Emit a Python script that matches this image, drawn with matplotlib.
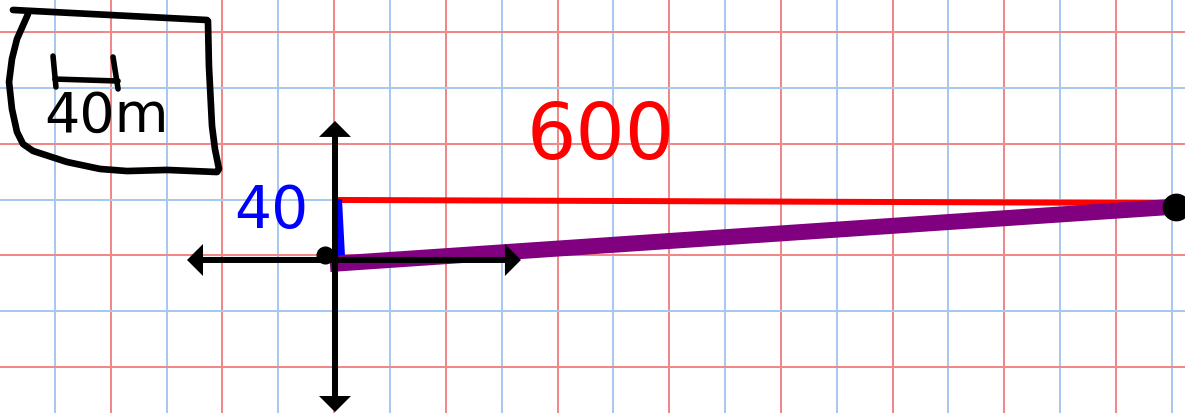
import numpy as np
import matplotlib
matplotlib.use("Agg")
import matplotlib.pyplot as plt

# ---- scale: pixels per metre on the sheet (1 grid square = 40 m) ----
PX_PER_M = 1.396
W_PX, H_PX = 1185, 414
ORIGIN_PX = (335, 260)

# ---- data (metres) ----
run_m = 600          # horizontal distance label
rise_m = 40          # vertical rise label
scale_m = 40         # legend scale
grid_step = 40
grid_x_offset = -0.6
grid_y_offset = 2.6

red_line_x = [2.1, 594.6]
red_line_y = [42.3, 40.1]
purple_x = [-3.6, 609.3]
purple_y = [-3.6, 38.0]
blue_wedge_x = [2.1, 5.0, 7.2, 2.1]
blue_wedge_y = [43.0, 43.0, 1.4, 1.4]
dots_x = [-7.2, 602.4]
dots_y = [2.9, 37.2]
dots_size = [12, 19]

haxis_x = [-106.0, 133.2]
haxis_y = -0.7
vaxis_x = 0.0
vaxis_y = [98.9, -109.6]

box_x = [-230.7, -91.7, -91.0, -90.3, -88.1, -86.0, -83.1, -84.5, -120.3,
         -149.0, -168.3, -192.0, -216.3, -223.5, -227.8, -231.4, -233.5,
         -231.4, -227.8, -219.9]
box_y = [178.4, 171.2, 170.5, 138.3, 95.3, 78.8, 64.5, 62.3, 63.8,
         63.0, 64.5, 69.5, 77.4, 82.4, 91.0, 107.4, 126.8,
         143.3, 157.6, 175.5]
scalebar_x = [-202.0, -199.9, -200.6, -155.4, -159.0, -155.4]
scalebar_y = [145.4, 123.2, 128.9, 127.5, 144.7, 121.8]

label_run_xy = (190.5, 88.1)
label_rise_xy = (-45.8, 35.1)
label_scale_xy = (-163.3, 102.4)

# ---- figure ----
fig = plt.figure(figsize=(W_PX / 100, H_PX / 100), dpi=100)
ax = fig.add_axes([0, 0, 1, 1])
x0 = -ORIGIN_PX[0] / PX_PER_M
x1 = (W_PX - ORIGIN_PX[0]) / PX_PER_M
y0 = -(H_PX - ORIGIN_PX[1]) / PX_PER_M
y1 = ORIGIN_PX[1] / PX_PER_M
ax.set_xlim(x0, x1)
ax.set_ylim(y0, y1)
ax.axis("off")
fig.patch.set_facecolor("white")

RED_G = "#F08888"
BLUE_G = "#A8C8F0"
gw = 1.45

# grid
kmin = int(np.floor((x0 - grid_x_offset) / grid_step)) - 1
kmax = int(np.ceil((x1 - grid_x_offset) / grid_step)) + 1
for k in range(kmin, kmax + 1):
    gx = k * grid_step + grid_x_offset
    ax.axvline(gx, color=RED_G if k % 2 == 0 else BLUE_G, lw=gw, zorder=1)
nmin = int(np.floor((y0 - grid_y_offset) / grid_step)) - 1
nmax = int(np.ceil((y1 - grid_y_offset) / grid_step)) + 1
for n in range(nmin, nmax + 1):
    gy = n * grid_step + grid_y_offset
    ax.axhline(gy, color=RED_G if n % 2 == 0 else BLUE_G, lw=gw, zorder=1)

# red horizontal line & blue wedge
ax.plot(red_line_x, red_line_y, color="#FF0000", lw=4.3, solid_capstyle="butt", zorder=3)
ax.fill(blue_wedge_x, blue_wedge_y, color="#0000FF", lw=0, zorder=3)

# purple line
ax.plot(purple_x, purple_y, color="#800080", lw=11.5, solid_capstyle="butt", zorder=4)

# axes with arrows
sw = 6 / PX_PER_M
hw = 32 / PX_PER_M
hl = 16 / PX_PER_M
for ex in haxis_x:
    ax.arrow(vaxis_x, haxis_y, ex - vaxis_x, 0, width=sw, head_width=hw,
             head_length=hl, length_includes_head=True, color="black", lw=0, zorder=5)
for ey in vaxis_y:
    ax.arrow(vaxis_x, haxis_y, 0, ey - haxis_y, width=sw, head_width=hw,
             head_length=hl, length_includes_head=True, color="black", lw=0, zorder=5)

# dots
for dx, dy, ds in zip(dots_x, dots_y, dots_size):
    ax.plot([dx], [dy], "o", color="black", ms=ds, zorder=6)

# legend box
ax.plot(box_x[:2], box_y[:2], color="black", lw=4.8, solid_capstyle="round", zorder=5)
ax.plot(box_x[2:], box_y[2:], color="black", lw=4.8, solid_capstyle="round",
        solid_joinstyle="round", zorder=5)
for i in range(0, 6, 2):
    ax.plot(scalebar_x[i:i + 2], scalebar_y[i:i + 2], color="black", lw=4,
            solid_capstyle="round", zorder=5)
ax.text(*label_scale_xy, f"{scale_m}m", fontsize=40, color="black",
        ha="center", va="center", zorder=6)

# labels
ax.text(*label_run_xy, f"{run_m}", fontsize=56, color="#FF0000",
        ha="center", va="center", zorder=6)
ax.text(*label_rise_xy, f"{rise_m}", fontsize=42, color="#0000FF",
        ha="center", va="center", zorder=6)

fig.savefig("out.png", dpi=100, facecolor="white")
